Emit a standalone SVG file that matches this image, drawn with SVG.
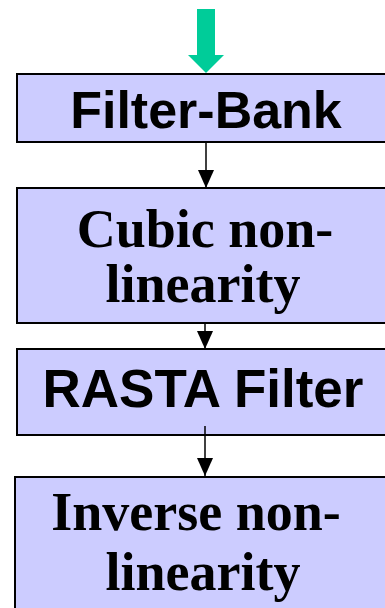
<svg xmlns="http://www.w3.org/2000/svg" width="385" height="608" viewBox="0 0 385 608">
  <style>
    .box { fill: #ccccff; stroke: #000; stroke-width: 2; }
    .sans { font-family: "Liberation Sans", Arial, sans-serif; font-weight: bold; fill: #000; text-anchor: middle; }
    .serif { font-family: "Liberation Serif", "Times New Roman", serif; font-weight: bold; fill: #000; text-anchor: middle; }
    .link { stroke: #000; stroke-width: 1.5; fill: none; }
  </style>
  <defs>
    <!-- filled triangular arrowhead, tip at the line end -->
    <marker id="head" markerUnits="userSpaceOnUse" markerWidth="18" markerHeight="16" refX="18" refY="8" orient="auto" viewBox="0 0 18 16">
      <path d="M0,0 L18,8 L0,16 Z" fill="#000"/>
    </marker>
  </defs>
  <rect width="385" height="608" fill="#fff"/>

  <g id="input-arrow">
    <path d="M197,9 H215 V55 H224 L206,73 L188,55 H197 Z" fill="#00cc99"/>
  </g>

  <g id="filter-bank">
    <rect class="box" x="17" y="74" width="380" height="68"/>
    <text class="sans" x="206" y="128" font-size="52">Filter-Bank</text>
  </g>

  <g id="cubic-nonlinearity">
    <rect class="box" x="17" y="188" width="380" height="135"/>
    <text class="serif" x="205" y="247" font-size="54">Cubic non-</text>
    <text class="serif" x="203" y="302" font-size="54">linearity</text>
  </g>

  <g id="rasta-filter">
    <rect class="box" x="17" y="349" width="380" height="86"/>
    <text class="sans" x="203" y="407" font-size="53">RASTA Filter</text>
  </g>

  <g id="inverse-nonlinearity">
    <rect class="box" x="15" y="477" width="382" height="150"/>
    <text class="serif" x="196" y="530" font-size="54">Inverse non-</text>
    <text class="serif" x="203" y="590" font-size="54">linearity</text>
  </g>

  <g id="connectors">
    <line class="link" x1="206" y1="142" x2="206" y2="188" marker-end="url(#head)"/>
    <line class="link" x1="205" y1="323" x2="205" y2="349" marker-end="url(#head)"/>
    <line class="link" x1="205" y1="426" x2="205" y2="476" marker-end="url(#head)"/>
  </g>
</svg>
